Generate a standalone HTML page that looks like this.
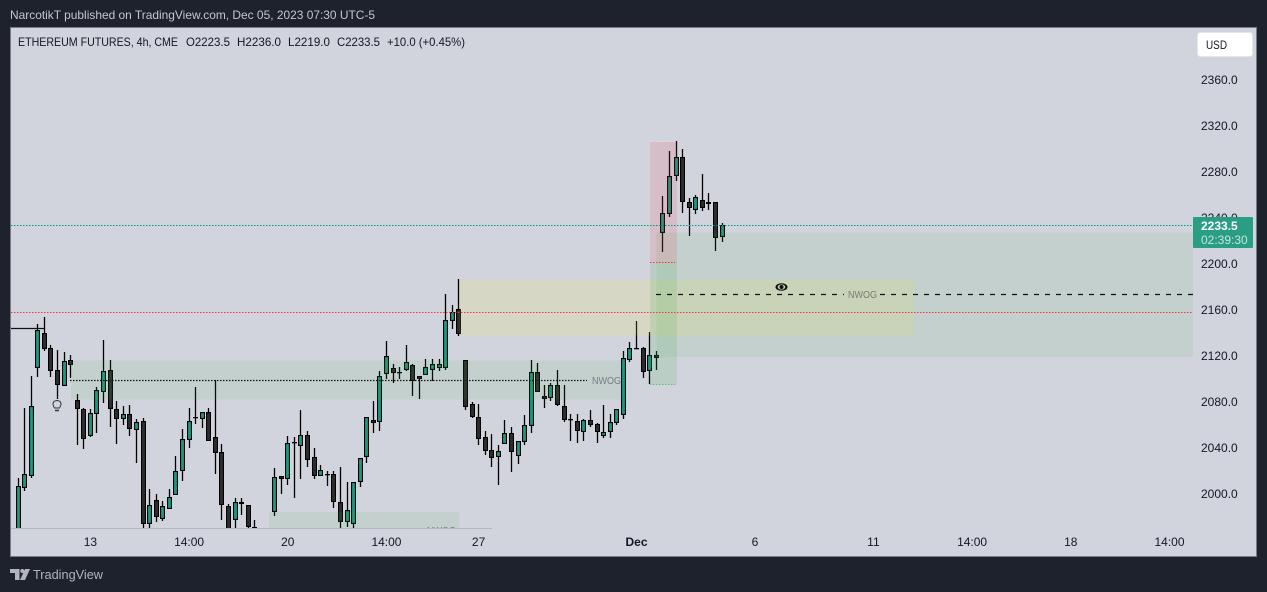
<!DOCTYPE html>
<html lang="en">
<head>
<meta charset="utf-8">
<title>Ethereum Futures 4h chart</title>
<style>
  html, body { margin: 0; padding: 0; width: 1267px; height: 592px; overflow: hidden; background: #1e222d; }
  svg { display: block; font-family: "Liberation Sans", sans-serif; }
  .price-label { font-size: 12px; fill: #131722; }
  .time-label { font-size: 12px; fill: #131722; text-anchor: middle; }
</style>
</head>
<body>
<svg id="chart" xmlns="http://www.w3.org/2000/svg" width="1267" height="592" viewBox="0 0 1267 592">
  <defs>
    <clipPath id="pane-clip"><rect x="11" y="28" width="1182" height="500.5"/></clipPath>
  </defs>
  <rect x="0" y="0" width="1267" height="592" fill="#1e222d"/>
  <text x="10" y="19" font-size="12" fill="#c4c7cf" textLength="365" lengthAdjust="spacingAndGlyphs">NarcotikT published on TradingView.com, Dec 05, 2023 07:30 UTC-5</text>
  <rect x="10.5" y="27.5" width="1246" height="529" fill="#d1d4dc" stroke="#787b86"/>

  <g id="candles" clip-path="url(#pane-clip)"></g>
  <g id="zones" clip-path="url(#pane-clip)" shape-rendering="crispEdges"></g>
  <g id="lines" clip-path="url(#pane-clip)"></g>

  <g clip-path="url(#pane-clip)">
    <text x="592" y="384" font-size="10" fill="#787b86" textLength="29" lengthAdjust="spacingAndGlyphs">NWOG</text>
    <text x="848" y="298" font-size="10" fill="#787b70" textLength="29" lengthAdjust="spacingAndGlyphs">NWOG</text>
    <text x="427" y="534" font-size="10" fill="#787b86" textLength="29" lengthAdjust="spacingAndGlyphs">NWOG</text>
  </g>

  <rect x="11" y="528" width="481" height="1" fill="#b4b7bf"/>

  <g>
    <ellipse cx="781.5" cy="287" rx="6" ry="3.8" fill="#111"/>
    <ellipse cx="781.5" cy="287" rx="3.8" ry="2.6" fill="#cdd4b8"/>
    <circle cx="781.5" cy="287" r="2" fill="#111"/>
  </g>
  <g fill="none" stroke="#333" stroke-width="1">
    <path d="M54.5 408 C52 404 52.5 401 57 400.5 C61.500 401 62 404 59.500 408 Z"/>
    <path d="M55 410.500 H59" stroke-width="1.500"/>
  </g>

  <text x="18" y="46" font-size="12" fill="#131722" textLength="160" lengthAdjust="spacingAndGlyphs">ETHEREUM FUTURES, 4h, CME</text>
  <text x="186" y="46" font-size="12" fill="#131722" textLength="44" lengthAdjust="spacingAndGlyphs">O2223.5</text>
  <text x="237" y="46" font-size="12" fill="#131722" textLength="44" lengthAdjust="spacingAndGlyphs">H2236.0</text>
  <text x="288" y="46" font-size="12" fill="#131722" textLength="42" lengthAdjust="spacingAndGlyphs">L2219.0</text>
  <text x="337" y="46" font-size="12" fill="#131722" textLength="43" lengthAdjust="spacingAndGlyphs">C2233.5</text>
  <text x="387" y="46" font-size="12" fill="#131722" textLength="78" lengthAdjust="spacingAndGlyphs">+10.0 (+0.45%)</text>

  <g id="price-axis"></g>
  <g id="time-axis"></g>

  <g>
    <rect x="1197.5" y="32.500" width="55" height="24" rx="3" fill="#ffffff" stroke="#e6e7ec"/>
    <text x="1206" y="49" font-size="12" fill="#131722" textLength="21" lengthAdjust="spacingAndGlyphs">USD</text>
  </g>

  <g>
    <rect x="1193" y="217" width="60" height="31" rx="1" fill="#2a9d85"/>
    <text x="1201" y="230" font-size="12" font-weight="bold" fill="#ffffff">2233.5</text>
    <text x="1201" y="244" font-size="12" fill="#c2e6dd">02:39:30</text>
  </g>

  <g>
    <path d="M10 569 H19.500 V580 H15 V573 H10 Z" fill="#b2b5be"/>
    <circle cx="22.300" cy="571" r="2" fill="#b2b5be"/>
    <path d="M25 569 H30 L25 580 H20 Z" fill="#b2b5be"/>
    <text x="33" y="579" font-size="13" fill="#b2b5be" textLength="70" lengthAdjust="spacingAndGlyphs">TradingView</text>
  </g>
</svg>

<script>
// OHLC values (USD), one entry per 4h bar
const opens = [
  1960,2005.5,2015.9,2109.9,2139.7,2126.7,2107.5,2094.2,2116.2,2081.5,
  2073.6,2050.7,2069.9,2089,2107.5,2073.6,2065.5,2069.3,2055.9,2063.2,
  1974.2,1994.5,1978.6,1987.3,1999.4,2020.3,2047.3,2067,2065.5,2071,
  2049.3,2036.2,1989.3,1977.1,1992.8,1990.2,1971,1962,1958,1984.7,
  2016,2013.3,2044.9,2042,2051,2031.9,2016,2017.4,2017.1,1992.8,
  1976,1974.2,2010.7,2032.5,2064.1,2062.9,2104.7,2109.3,2105.8,2108.1,
  2111.9,2102.3,2103.8,2108.1,2109.9,2109.9,2150.7,2160.6,2116.2,2078,
  2066.7,2049.3,2038,2032.5,2043.8,2052.8,2033.4,2045.5,2058.9,2105.8,
  2084.9,2083.8,2094.5,2076.2,2064.9,2063.2,2053.6,2064.1,2060.6,2050.7,
  2053.6,2062,2069,2116.8,2126.7,2126.7,2107.3,2120.6,2227.2,2243.7,
  2276.8,2292.7,2253.6,2247.2,2255.3,2253.9,2253.6,2223.5
];
const highs = [
  2013.6,2074.5,2102.6,2147.8,2153.6,2129.3,2125.2,2123.5,2120.9,2087,
  2075.1,2073.9,2092.8,2133.9,2116.5,2080.9,2076.2,2077.1,2064.9,2065.8,
  2004.1,1999.7,1993.9,2004.1,2033,2056.2,2074.8,2092.8,2071,2074.8,
  2098.8,2043.2,1991,1996.2,1996.2,1990.2,1977.4,1968,1966,2022.3,
  2016,2050.2,2049.3,2073.1,2054.5,2039.7,2024.9,2019.7,2019.7,2023.5,
  2010.4,2010.2,2031,2066.7,2080.9,2106.7,2133.1,2113.1,2110.2,2129.6,
  2112.8,2102.3,2117.1,2117.4,2117.4,2173.9,2164.4,2187,2116.2,2079.7,
  2078,2054.5,2052.2,2042.3,2064.1,2058,2045.8,2068.4,2116.2,2113.6,
  2094.5,2096.2,2107.6,2094.5,2069.3,2069.3,2064.9,2072.8,2061.5,2077.4,
  2069.3,2073.6,2124.1,2131.9,2150.2,2127.6,2140.6,2124.1,2259.1,2297.9,
  2306.9,2300,2257.1,2260,2278.2,2261.7,2253.6,2236
];
const lows = [
  1950,2002.9,2014.2,2101.7,2124.6,2101.7,2082.3,2094.2,2100.9,2042.6,
  2039.1,2049.9,2053,2079.1,2058.3,2043.5,2060,2050.4,2027,1965.8,
  1964.4,1975.7,1976.8,1987.3,1999.4,2011.3,2040,2060.9,2057.4,2046.4,
  2017.4,1977.4,1955,1968.7,1981.8,1970.2,1966,1955,1952,1980.9,
  2000.3,2008.1,1996.5,2013.1,2023.5,2013.1,2016,2007,1987.8,1969.6,
  1971.3,1969.9,2006.1,2027,2053.1,2054.8,2100,2096.8,2100,2107.3,
  2085.2,2082.6,2103.8,2098.3,2107.3,2107.8,2143.5,2137.7,2073.4,2066.1,
  2042.6,2033.9,2023.5,2007.8,2043.8,2019.1,2026.1,2042.6,2053.1,2089,
  2074.8,2080.9,2076.5,2062.6,2046.1,2044.4,2046.1,2058.3,2044.4,2048.7,
  2048.7,2060,2065.5,2114.8,2126.4,2100.9,2095.4,2107.6,2210.4,2240.8,
  2272.4,2244.3,2224.3,2243.7,2246.1,2246.9,2211.3,2219
];
const closes = [
  2006.7,2017.1,2076.2,2142.3,2126.4,2107.3,2095.1,2115.4,2112.5,2074.2,
  2048.1,2070.1,2090.1,2106.7,2074.2,2065.5,2069.3,2056.8,2062.3,1974.2,
  1990.1,1980.3,1989.3,1997.1,2019.7,2047.5,2063.2,2066.4,2071,2046.4,
  2035.9,1990.1,1965,1992.8,1991,1971.6,1968,1958,1964,2014.5,
  2013.3,2044.1,2044.7,2051,2029.9,2016,2020.6,2017.1,1993.3,1976,
  1985.8,2010.2,2031,2066.7,2062,2102.3,2119.7,2105.5,2105.5,2114.5,
  2098.6,2100.3,2110.2,2112.8,2112.8,2151,2158,2139.4,2076,2067,
  2048.1,2037.1,2031.6,2037.1,2052.8,2036.8,2045.8,2059.7,2105.8,2089,
  2082.9,2094.5,2077.7,2064.7,2064.7,2055.1,2064.1,2060.3,2053.6,2053.6,
  2062.3,2073.6,2118,2126.7,2126.4,2106.4,2120.6,2118.6,2244,2276.2,
  2292.7,2254.2,2249,2257.9,2249,2252.4,2222.9,2233.5
];

// Axis ticks
const priceTicks = [2360, 2320, 2280, 2240, 2200, 2160, 2120, 2080, 2040, 2000];
const timeTickBars = [11, 26, 41, 56, 70, 94, 112, 130, 145, 160, 175];
const timeTickLabels = ['13', '14:00', '20', '14:00', '27', 'Dec', '6', '11', '14:00', '18', '14:00'];
const boldTimeTicks = ['Dec'];

// Drawn zones, in bar index and price
const zoneNames = ['nwog-zone-left', 'nwog-zone-bottom', 'premium-zone', 'nwog-zone-large', 'bearish-zone', 'bullish-zone'];
const zoneStartBars = [8.05, 38.15, 67.1, 97.05, 96.05, 96.05];
const zoneEndBars = [91.8, 67.1, 136.2, 178.6, 100.15, 100.15];
const zoneTopPrices = [2115.9, 1984.3, 2186, 2227.2, 2306.4, 2201];
const zoneBottomPrices = [2082, 1965, 2137.7, 2119, 2201, 2095.3];
const zoneFills = ['rgba(76,175,80,.1)', 'rgba(76,175,80,.1)', 'rgba(255,235,59,.14)', 'rgba(76,175,80,.1)', 'rgba(242,54,69,.14)', 'rgba(76,175,80,.16)'];

// Horizontal levels
const redLevelPrice = 2158;
const lastPrice = closes[closes.length - 1];
const nwogMidPrice = 2098.8;
const largeMidPrice = 2173.6;
const priorHighPrice = 2144;

const NS = 'http://www.w3.org/2000/svg';
function xAt(bar) { return 18 + bar * 6.58; }
function yAt(price) { return 80 + (2360 - price) * 1.15; }

function shape(parent, tag, attrs) {
  const el = document.createElementNS(NS, tag);
  for (const k in attrs) el.setAttribute(k, attrs[k]);
  parent.appendChild(el);
  return el;
}

const candleLayer = document.getElementById('candles');
opens.forEach(function (open, i) {
  const up = closes[i] >= open;
  const px = Math.floor(xAt(i));
  const top = Math.round(yAt(Math.max(open, closes[i])));
  const bottom = Math.round(yAt(Math.min(open, closes[i])));
  const hi = Math.round(yAt(highs[i]));
  const lo = Math.round(yAt(lows[i]));
  const group = shape(candleLayer, 'g', {});
  
  
  shape(group, 'rect', { x: px - 0.15, y: hi, width: 1.3, height: Math.max(1, lo - hi), fill: '#000' });
  const h = bottom - top;
  if (h < 2) {
    shape(group, 'rect', { x: px - 2, y: top, width: 5, height: 1.3, fill: '#000' });
  } else {
    shape(group, 'rect', { x: px - 2, y: top, width: 5, height: h, fill: '#000' });
    if (h > 2) {
      shape(group, 'rect', { x: px - 0.9, y: top + 1.1, width: 2.8, height: h - 2.2, fill: up ? '#1b9a82' : '#2e2e2e' });
    }
  }
});

const zoneLayer = document.getElementById('zones');
zoneNames.forEach(function (name, i) {
  const left = xAt(zoneStartBars[i]);
  const right = xAt(zoneEndBars[i]);
  const top = yAt(zoneTopPrices[i]);
  const bottom = yAt(zoneBottomPrices[i]);
  const zone = shape(zoneLayer, 'rect', { x: left, y: top, width: right - left, height: bottom - top, fill: zoneFills[i] });
  
  
});

const lineLayer = document.getElementById('lines');
function level(name, x1, x2, y, stroke, dash, width) {
  const ln = shape(lineLayer, 'line', { x1: x1, x2: x2, y1: y, y2: y, stroke: stroke, 'stroke-width': width || 1, 'stroke-dasharray': dash });
  
  
}
const yRed = Math.floor(yAt(redLevelPrice)) + 0.5;
const yLast = Math.floor(yAt(lastPrice)) + 0.5;
const yNwog = Math.floor(yAt(nwogMidPrice)) + 0.5;
const yLarge = Math.floor(yAt(largeMidPrice)) + 0.5;
const yPrior = Math.floor(yAt(priorHighPrice)) + 0.5;
level('red-dotted-level', 11, 1193, yRed, '#f23645', '1.5 1.5');
level('last-price-line', 11, 1193, yLast, '#089981', '1.5 1.5');
level('nwog-midline-left', 70, 587, yNwog, '#111', '1.5 1.5', 1.2);
level('nwog-midline-large-a', 656, 844, yLarge, '#111', '5 6', 1.2);
level('nwog-midline-large-b', 880, 1193, yLarge, '#111', '5 6', 1.2);
level('prior-high-line', 11, 44, yPrior, '#111', 'none', 1.2);
level('bearish-zone-top', 650, 677, 141.5, '#e8dfe4', '1.5 1.5');
level('bearish-zone-bottom', 650, 675, 262.5, '#f23645', '1.5 1.5');
level('bullish-zone-bottom', 650, 675, 384.5, '#5cc26a', '1.5 1.5');

const priceAxis = document.getElementById('price-axis');
priceTicks.forEach(function (price) {
  const label = shape(priceAxis, 'text', { x: 1201, y: Math.round(yAt(price)) + 4, class: 'price-label' });
  
  
  label.textContent = price.toFixed(1);
});

const timeAxis = document.getElementById('time-axis');
timeTickBars.forEach(function (bar, i) {
  const label = shape(timeAxis, 'text', { x: xAt(bar), y: 546, class: 'time-label' });
  
  
  if (boldTimeTicks.indexOf(timeTickLabels[i]) >= 0) {
    label.setAttribute('font-weight', 'bold');
  }
  label.textContent = timeTickLabels[i];
});
</script>
</body>
</html>
